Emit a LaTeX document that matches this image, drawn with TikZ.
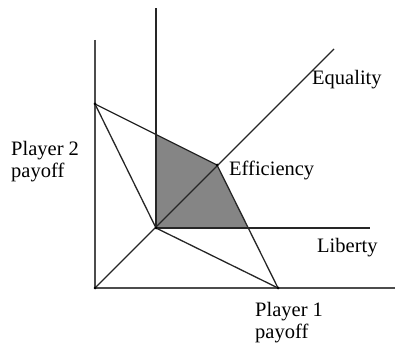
\documentclass[tikz,border=0pt]{standalone}
\usepackage{fontspec}
\setmainfont{Liberation Serif}
\begin{document}
\begin{tikzpicture}[x=1pt,y=1pt,
  ln/.style={draw=black!85,line width=1.3pt},
  ax/.style={draw=black!70,line width=1.4pt},
  lab/.style={font=\fontsize{20.5}{22}\selectfont,inner sep=0pt,align=left},
  dot/.style={circle,fill=black,inner sep=0pt,minimum size=3pt}]
\useasboundingbox (0,0) rectangle (396,348);
\coordinate (O) at (95,60);
\coordinate (ytop) at (95,308);
\coordinate (xend) at (395,60);
\coordinate (A) at (95,244);
\coordinate (B) at (278,60);
\coordinate (D) at (156,120);
\coordinate (vtop) at (156,340);
\coordinate (hend) at (370,120);
\coordinate (E) at (217,183);
\coordinate (eqend) at (334,299);
\coordinate (P) at (intersection of A--E and D--vtop);
\coordinate (Q) at (intersection of E--B and D--hend);
\fill[fill=black!48] (D) -- (P) -- (E) -- (Q) -- cycle;
\draw[ax] (ytop) -- (O) -- (xend);
\draw[ln] (D) -- (vtop);
\draw[ln] (D) -- (hend);
\draw[ln] (O) -- (eqend);
\draw[ln] (A) -- (E) -- (B);
\draw[ln] (A) -- (D) -- (B);
\foreach \p in {O,A,B,D,E} \node[dot] at (\p) {};
\node[lab,anchor=west] (eq) at (312,268) {Equality};
\node[lab,anchor=west] (ef) at (229,178) {Efficiency};
\node[lab,anchor=west] (li) at (317,100) {Liberty};
\node[lab,anchor=north west] (p1) at (255,46) {Player 1\\payoff};
\node[lab,anchor=west] (p2) at (11,186) {Player 2\\payoff};
\end{tikzpicture}
\end{document}
